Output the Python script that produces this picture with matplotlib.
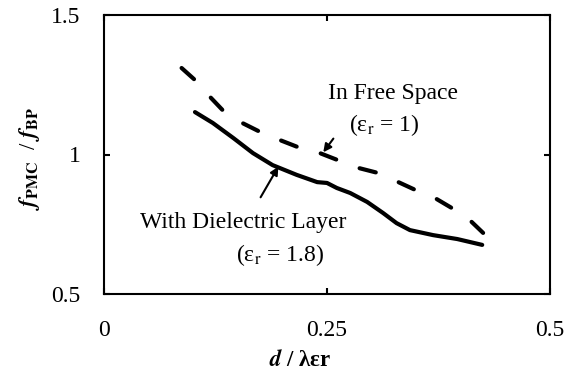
import matplotlib
matplotlib.use('Agg')
import matplotlib.pyplot as plt

plt.rcParams['font.family'] = 'Liberation Serif'
plt.rcParams['mathtext.fontset'] = 'stix'

# free space curve (dashed)
x_free = [0.087, 0.102, 0.119, 0.133, 0.155, 0.175, 0.197, 0.217, 0.242,
          0.262, 0.285, 0.307, 0.330, 0.349, 0.371, 0.390, 0.410, 0.425]
y_free = [1.310, 1.267, 1.206, 1.159, 1.113, 1.081, 1.052, 1.027, 1.005,
          0.980, 0.952, 0.934, 0.901, 0.873, 0.844, 0.808, 0.765, 0.719]

# dielectric layer curve (solid)
x_diel = [0.102, 0.122, 0.145, 0.167, 0.189, 0.216, 0.239, 0.250, 0.261,
          0.276, 0.295, 0.313, 0.328, 0.343, 0.369, 0.396, 0.424]
y_diel = [1.152, 1.113, 1.059, 1.005, 0.962, 0.927, 0.901, 0.898, 0.880,
          0.862, 0.830, 0.790, 0.754, 0.729, 0.711, 0.697, 0.676]

x_ticks = [0, 0.25, 0.5]
y_ticks = [0.5, 1, 1.5]

W, H = 567, 382
fig = plt.figure(figsize=(W / 100, H / 100), dpi=100)
ax = fig.add_axes([104 / W, 1 - 294 / H, (550 - 104) / W, (294 - 15) / H])

ax.plot(x_free, y_free, color='black', lw=3, ls=(0, (4, 6)),
        dash_capstyle='round', dash_joinstyle='round')
ax.plot(x_diel, y_diel, color='black', lw=3, solid_capstyle='round',
        solid_joinstyle='round')

ax.set_xlim(0, 0.5)
ax.set_ylim(0.5, 1.5)
ax.set_xticks(x_ticks)
ax.set_xticklabels(['0', '0.25', '0.5'])
ax.set_yticks(y_ticks)
ax.set_yticklabels(['0.5', '1', '1.5'])

for s in ax.spines.values():
    s.set_linewidth(1.5)
ax.tick_params(axis='both', direction='in', length=4.5, width=1.5, labelsize=17,
               top=True, right=True)
ax.tick_params(axis='x', pad=19)
ax.tick_params(axis='y', pad=17)

ax.set_ylabel(r'$\mathbfit{f}_{\mathbf{PMC}}$  / $\mathbfit{f}_{\mathbf{BP}}$', fontsize=16.5)
ax.yaxis.set_label_coords((30 - 104) / (550 - 104), (294 - 158) / (294 - 15))
ax.set_xlabel(r'$\mathbfit{d}$ / λεr', fontsize=16.5, fontweight='bold')
ax.xaxis.set_label_coords((300 - 104) / (550 - 104), -(360 - 294) / (294 - 15))
ax.xaxis.label.set_va('center')
ax.yaxis.label.set_va('center')

ax.annotate('', xy=(0.244, 1.0), xytext=(0.259, 1.065),
            arrowprops=dict(arrowstyle='-|>', color='black', lw=1.5, mutation_scale=12))
ax.text(0.324, 1.218, 'In Free Space', ha='center', va='center', fontsize=17)
ax.text(0.314, 1.105, r'(ε$_\mathrm{r}$ = 1)', ha='center', va='center', fontsize=17)

ax.annotate('', xy=(0.197, 0.965), xytext=(0.174, 0.838),
            arrowprops=dict(arrowstyle='-|>', color='black', lw=1.5, mutation_scale=12))
ax.text(0.156, 0.755, 'With Dielectric Layer', ha='center', va='center', fontsize=17)
ax.text(0.198, 0.64, r'(ε$_\mathrm{r}$ = 1.8)', ha='center', va='center', fontsize=17)

fig.savefig('out.png', dpi=100)
